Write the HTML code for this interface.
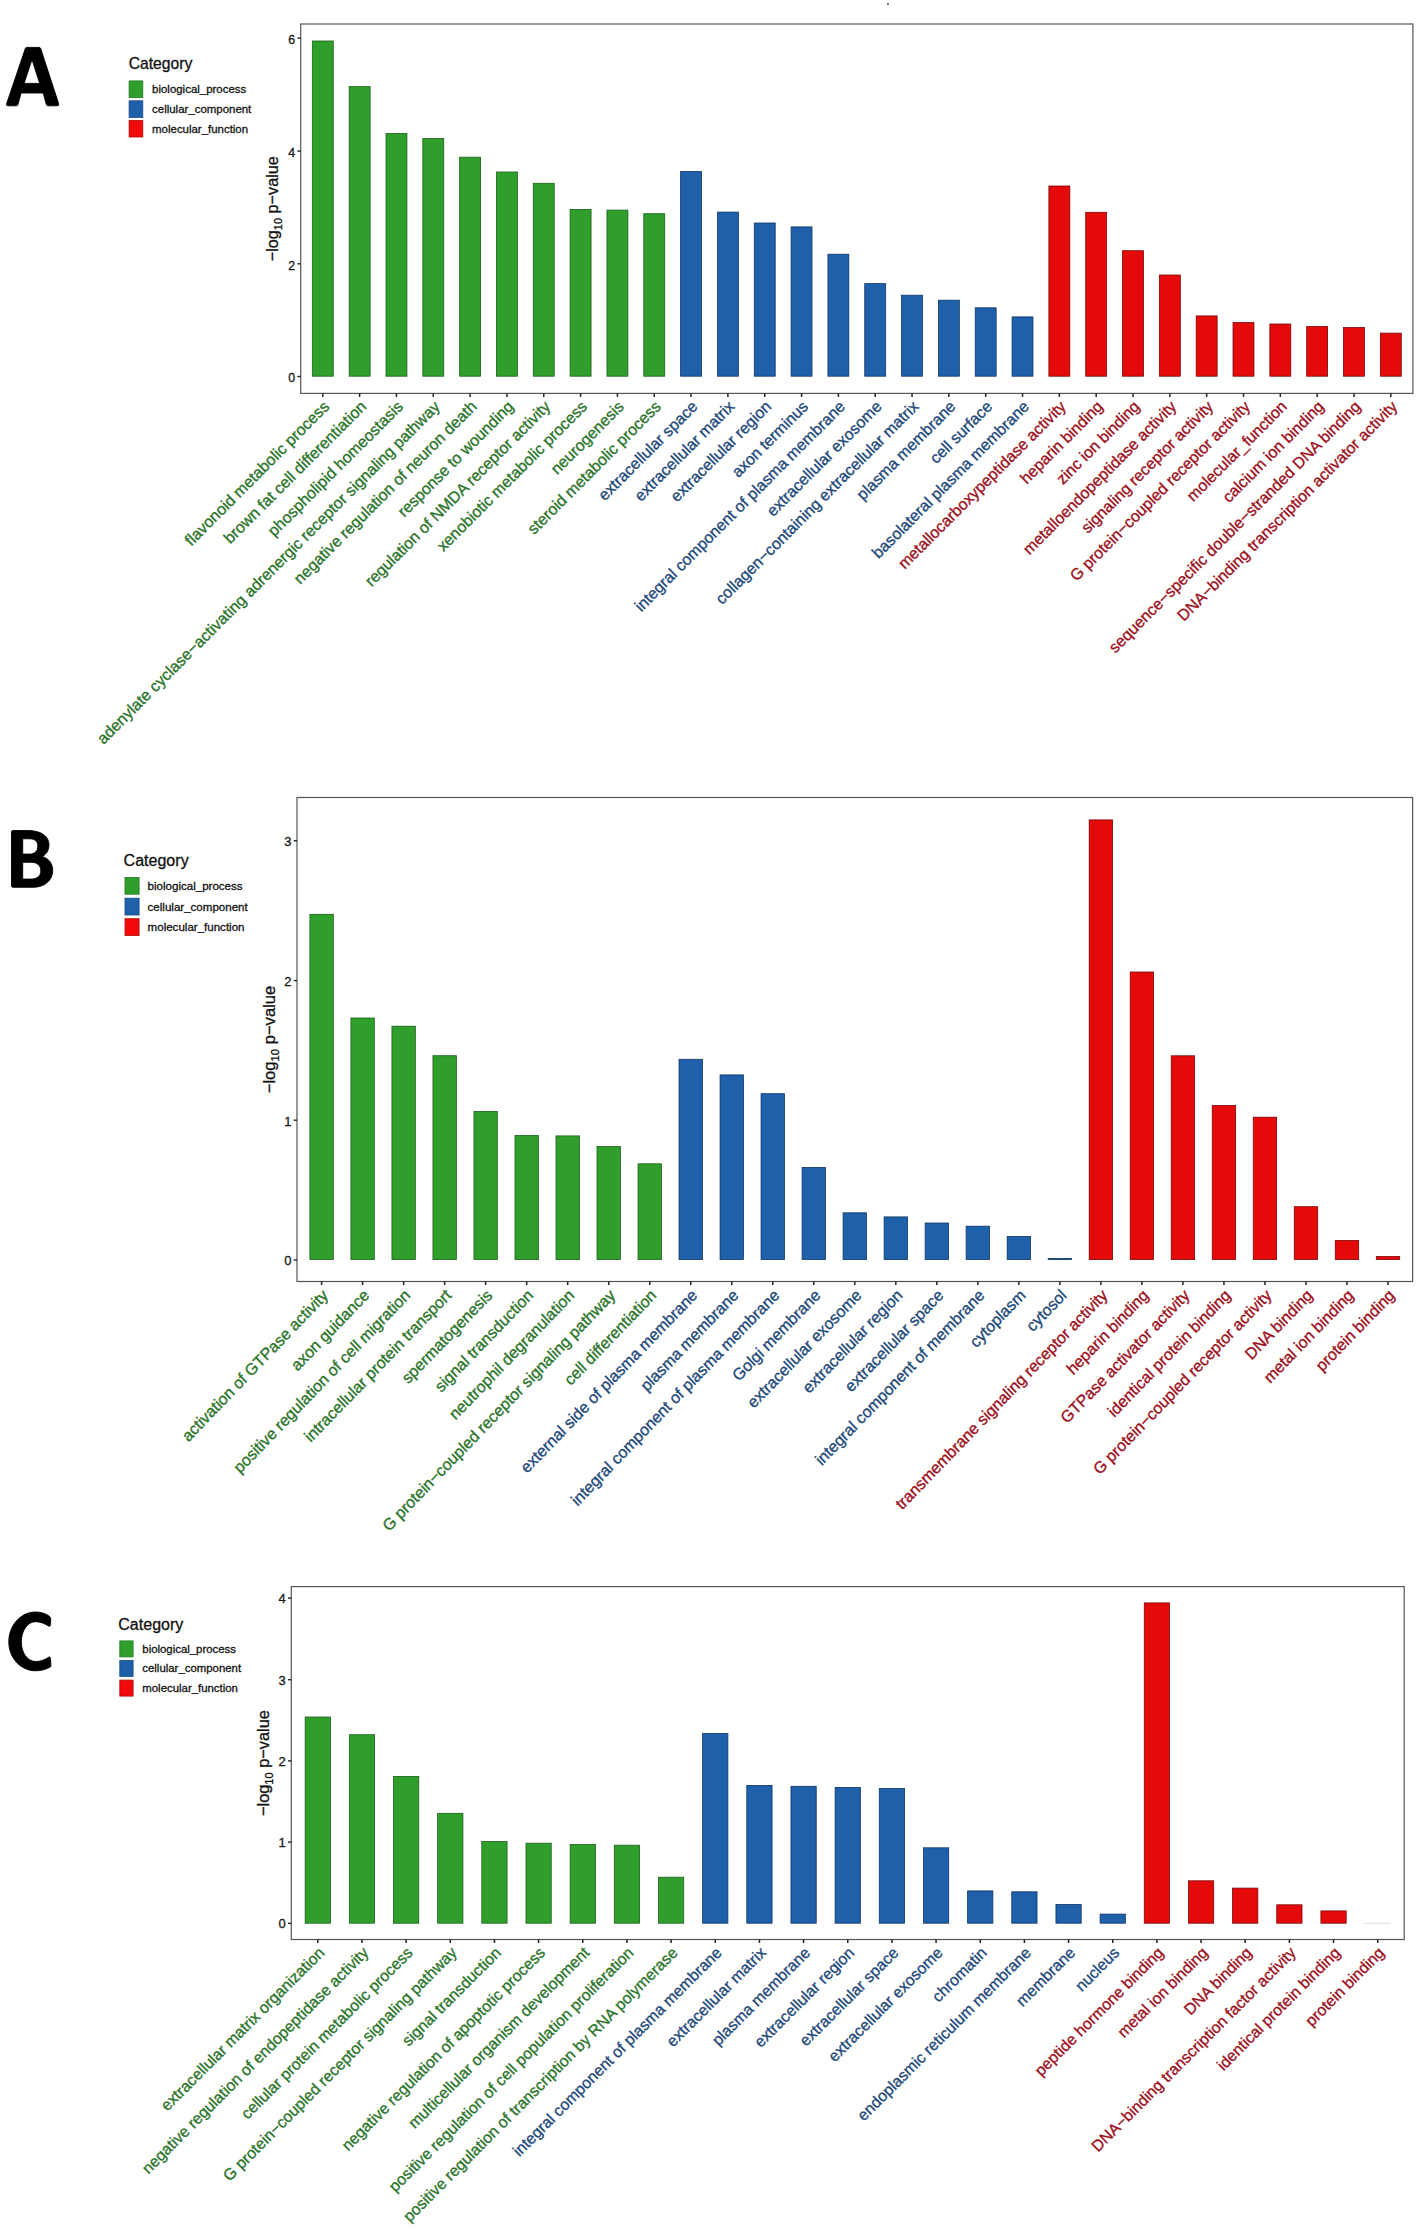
<!DOCTYPE html>
<html><head><meta charset="utf-8"><style>
html,body{margin:0;padding:0;background:#fff;}
svg{display:block;}
text{font-family:"Liberation Sans",sans-serif;}
.lt{fill:#111;}
.lg{fill:#111;}
.yt{fill:#222;text-anchor:end;}
.ytl{font-size:17px;fill:#111;text-anchor:middle;}
.xl{text-anchor:end;stroke-width:0.35px;}
.lt,.lg,.yt,.ytl{stroke:#111;stroke-width:0.3px;}
</style></head><body>
<svg width="1416" height="2232" viewBox="0 0 1416 2232">
<rect x="0" y="0" width="1416" height="2232" fill="#fff"/>
<circle cx="888" cy="4" r="0.9" fill="#333"/>
<path fill="#000" stroke="#000" stroke-width="0.9" stroke-linejoin="round" fill-rule="evenodd" d="M25.4 48.2 Q25.8 47.4 26.8 47.4 L39.2 47.4 Q40.2 47.4 40.6 48.3 L58.6 103.6 Q59.3 105.8 57.2 105.8 L48 105.8 Q46.8 105.8 46.4 104.6 L43.2 93 L21.1 93 L17.9 104.6 Q17.5 105.8 16.3 105.8 L7.9 105.8 Q5.9 105.8 6.6 103.8 Z M32 59.6 L39.7 83.4 L24.1 83.4 Z"/>
<text x="128.7" y="69.3" font-size="15.7" class="lt">Category</text>
<rect x="129.1" y="80.9" width="13.7" height="16.6" fill="#2f9e2b" stroke="#237a20" stroke-width="0.8"/>
<text x="152.1" y="93.2" font-size="11.45" class="lg">biological_process</text>
<rect x="129.1" y="100.8" width="13.7" height="16.6" fill="#1e60aa" stroke="#174c88" stroke-width="0.8"/>
<text x="152.1" y="113.1" font-size="11.45" class="lg">cellular_component</text>
<rect x="129.1" y="120.4" width="13.7" height="16.6" fill="#f20a0a" stroke="#b00808" stroke-width="0.8"/>
<text x="152.1" y="132.7" font-size="11.45" class="lg">molecular_function</text>
<rect x="312.33" y="41" width="20.93" height="335.2" fill="#2f9e2b" stroke="#1a601a" stroke-width="0.8"/>
<rect x="349.16" y="86.6" width="20.93" height="289.6" fill="#2f9e2b" stroke="#1a601a" stroke-width="0.8"/>
<rect x="385.99" y="133.5" width="20.93" height="242.7" fill="#2f9e2b" stroke="#1a601a" stroke-width="0.8"/>
<rect x="422.82" y="138.5" width="20.93" height="237.7" fill="#2f9e2b" stroke="#1a601a" stroke-width="0.8"/>
<rect x="459.64" y="157.2" width="20.93" height="219" fill="#2f9e2b" stroke="#1a601a" stroke-width="0.8"/>
<rect x="496.47" y="172" width="20.93" height="204.2" fill="#2f9e2b" stroke="#1a601a" stroke-width="0.8"/>
<rect x="533.3" y="183.3" width="20.93" height="192.9" fill="#2f9e2b" stroke="#1a601a" stroke-width="0.8"/>
<rect x="570.13" y="209.4" width="20.93" height="166.8" fill="#2f9e2b" stroke="#1a601a" stroke-width="0.8"/>
<rect x="606.96" y="210.1" width="20.93" height="166.1" fill="#2f9e2b" stroke="#1a601a" stroke-width="0.8"/>
<rect x="643.78" y="213.7" width="20.93" height="162.5" fill="#2f9e2b" stroke="#1a601a" stroke-width="0.8"/>
<rect x="680.61" y="171.5" width="20.93" height="204.7" fill="#1e60aa" stroke="#0f3566" stroke-width="0.8"/>
<rect x="717.44" y="212.1" width="20.93" height="164.1" fill="#1e60aa" stroke="#0f3566" stroke-width="0.8"/>
<rect x="754.27" y="223" width="20.93" height="153.2" fill="#1e60aa" stroke="#0f3566" stroke-width="0.8"/>
<rect x="791.09" y="226.9" width="20.93" height="149.3" fill="#1e60aa" stroke="#0f3566" stroke-width="0.8"/>
<rect x="827.92" y="254.2" width="20.93" height="122" fill="#1e60aa" stroke="#0f3566" stroke-width="0.8"/>
<rect x="864.75" y="283.6" width="20.93" height="92.6" fill="#1e60aa" stroke="#0f3566" stroke-width="0.8"/>
<rect x="901.58" y="295.2" width="20.93" height="81" fill="#1e60aa" stroke="#0f3566" stroke-width="0.8"/>
<rect x="938.41" y="300.2" width="20.93" height="76" fill="#1e60aa" stroke="#0f3566" stroke-width="0.8"/>
<rect x="975.23" y="307.8" width="20.93" height="68.4" fill="#1e60aa" stroke="#0f3566" stroke-width="0.8"/>
<rect x="1012.06" y="316.9" width="20.93" height="59.3" fill="#1e60aa" stroke="#0f3566" stroke-width="0.8"/>
<rect x="1048.89" y="186" width="20.93" height="190.2" fill="#e50a0a" stroke="#7a0606" stroke-width="0.8"/>
<rect x="1085.72" y="212.3" width="20.93" height="163.9" fill="#e50a0a" stroke="#7a0606" stroke-width="0.8"/>
<rect x="1122.54" y="250.7" width="20.93" height="125.5" fill="#e50a0a" stroke="#7a0606" stroke-width="0.8"/>
<rect x="1159.37" y="275" width="20.93" height="101.2" fill="#e50a0a" stroke="#7a0606" stroke-width="0.8"/>
<rect x="1196.2" y="315.9" width="20.93" height="60.3" fill="#e50a0a" stroke="#7a0606" stroke-width="0.8"/>
<rect x="1233.03" y="322.5" width="20.93" height="53.7" fill="#e50a0a" stroke="#7a0606" stroke-width="0.8"/>
<rect x="1269.86" y="324" width="20.93" height="52.2" fill="#e50a0a" stroke="#7a0606" stroke-width="0.8"/>
<rect x="1306.68" y="326.5" width="20.93" height="49.7" fill="#e50a0a" stroke="#7a0606" stroke-width="0.8"/>
<rect x="1343.51" y="327.5" width="20.93" height="48.7" fill="#e50a0a" stroke="#7a0606" stroke-width="0.8"/>
<rect x="1380.34" y="333.1" width="20.93" height="43.1" fill="#e50a0a" stroke="#7a0606" stroke-width="0.8"/>
<rect x="300.7" y="24" width="1112.2" height="369.4" fill="none" stroke="#555" stroke-width="1.2"/>
<line x1="297.4" y1="376.5" x2="300.7" y2="376.5" stroke="#222" stroke-width="1.4"/>
<text x="295.1" y="382.4" font-size="12.3" class="yt">0</text>
<line x1="297.4" y1="263.8" x2="300.7" y2="263.8" stroke="#222" stroke-width="1.4"/>
<text x="295.1" y="269.7" font-size="12.3" class="yt">2</text>
<line x1="297.4" y1="151.1" x2="300.7" y2="151.1" stroke="#222" stroke-width="1.4"/>
<text x="295.1" y="157" font-size="12.3" class="yt">4</text>
<line x1="297.4" y1="38.1" x2="300.7" y2="38.1" stroke="#222" stroke-width="1.4"/>
<text x="295.1" y="44" font-size="12.3" class="yt">6</text>
<text transform="translate(278.3,208.7) scale(1,0.955) rotate(-90)" class="ytl">−log<tspan font-size="11.5" dy="3.6">10</tspan><tspan dy="-3.6"> p−value</tspan></text>
<line x1="322.8" y1="393.4" x2="322.8" y2="396.9" stroke="#222" stroke-width="1.5"/>
<text transform="translate(322.6,399.8) rotate(-45)" y="11.0" font-size="15.95" class="xl" fill="#2b742b" stroke="#2b742b">flavonoid metabolic process</text>
<line x1="359.62" y1="393.4" x2="359.62" y2="396.9" stroke="#222" stroke-width="1.5"/>
<text transform="translate(359.42,399.8) rotate(-45)" y="11.0" font-size="15.95" class="xl" fill="#2b742b" stroke="#2b742b">brown fat cell differentiation</text>
<line x1="396.45" y1="393.4" x2="396.45" y2="396.9" stroke="#222" stroke-width="1.5"/>
<text transform="translate(396.25,399.8) rotate(-45)" y="11.0" font-size="15.95" class="xl" fill="#2b742b" stroke="#2b742b">phospholipid homeostasis</text>
<line x1="433.28" y1="393.4" x2="433.28" y2="396.9" stroke="#222" stroke-width="1.5"/>
<text transform="translate(433.08,399.8) rotate(-45)" y="11.0" font-size="15.95" class="xl" fill="#2b742b" stroke="#2b742b">adenylate cyclase−activating adrenergic receptor signaling pathway</text>
<line x1="470.11" y1="393.4" x2="470.11" y2="396.9" stroke="#222" stroke-width="1.5"/>
<text transform="translate(469.91,399.8) rotate(-45)" y="11.0" font-size="15.95" class="xl" fill="#2b742b" stroke="#2b742b">negative regulation of neuron death</text>
<line x1="506.94" y1="393.4" x2="506.94" y2="396.9" stroke="#222" stroke-width="1.5"/>
<text transform="translate(506.74,399.8) rotate(-45)" y="11.0" font-size="15.95" class="xl" fill="#2b742b" stroke="#2b742b">response to wounding</text>
<line x1="543.76" y1="393.4" x2="543.76" y2="396.9" stroke="#222" stroke-width="1.5"/>
<text transform="translate(543.56,399.8) rotate(-45)" y="11.0" font-size="15.95" class="xl" fill="#2b742b" stroke="#2b742b">regulation of NMDA receptor activity</text>
<line x1="580.59" y1="393.4" x2="580.59" y2="396.9" stroke="#222" stroke-width="1.5"/>
<text transform="translate(580.39,399.8) rotate(-45)" y="11.0" font-size="15.95" class="xl" fill="#2b742b" stroke="#2b742b">xenobiotic metabolic process</text>
<line x1="617.42" y1="393.4" x2="617.42" y2="396.9" stroke="#222" stroke-width="1.5"/>
<text transform="translate(617.22,399.8) rotate(-45)" y="11.0" font-size="15.95" class="xl" fill="#2b742b" stroke="#2b742b">neurogenesis</text>
<line x1="654.25" y1="393.4" x2="654.25" y2="396.9" stroke="#222" stroke-width="1.5"/>
<text transform="translate(654.05,399.8) rotate(-45)" y="11.0" font-size="15.95" class="xl" fill="#2b742b" stroke="#2b742b">steroid metabolic process</text>
<line x1="691.07" y1="393.4" x2="691.07" y2="396.9" stroke="#222" stroke-width="1.5"/>
<text transform="translate(690.87,399.8) rotate(-45)" y="11.0" font-size="15.95" class="xl" fill="#22497a" stroke="#22497a">extracellular space</text>
<line x1="727.9" y1="393.4" x2="727.9" y2="396.9" stroke="#222" stroke-width="1.5"/>
<text transform="translate(727.7,399.8) rotate(-45)" y="11.0" font-size="15.95" class="xl" fill="#22497a" stroke="#22497a">extracellular matrix</text>
<line x1="764.73" y1="393.4" x2="764.73" y2="396.9" stroke="#222" stroke-width="1.5"/>
<text transform="translate(764.53,399.8) rotate(-45)" y="11.0" font-size="15.95" class="xl" fill="#22497a" stroke="#22497a">extracellular region</text>
<line x1="801.56" y1="393.4" x2="801.56" y2="396.9" stroke="#222" stroke-width="1.5"/>
<text transform="translate(801.36,399.8) rotate(-45)" y="11.0" font-size="15.95" class="xl" fill="#22497a" stroke="#22497a">axon terminus</text>
<line x1="838.39" y1="393.4" x2="838.39" y2="396.9" stroke="#222" stroke-width="1.5"/>
<text transform="translate(838.19,399.8) rotate(-45)" y="11.0" font-size="15.95" class="xl" fill="#22497a" stroke="#22497a">integral component of plasma membrane</text>
<line x1="875.21" y1="393.4" x2="875.21" y2="396.9" stroke="#222" stroke-width="1.5"/>
<text transform="translate(875.01,399.8) rotate(-45)" y="11.0" font-size="15.95" class="xl" fill="#22497a" stroke="#22497a">extracellular exosome</text>
<line x1="912.04" y1="393.4" x2="912.04" y2="396.9" stroke="#222" stroke-width="1.5"/>
<text transform="translate(911.84,399.8) rotate(-45)" y="11.0" font-size="15.95" class="xl" fill="#22497a" stroke="#22497a">collagen−containing extracellular matrix</text>
<line x1="948.87" y1="393.4" x2="948.87" y2="396.9" stroke="#222" stroke-width="1.5"/>
<text transform="translate(948.67,399.8) rotate(-45)" y="11.0" font-size="15.95" class="xl" fill="#22497a" stroke="#22497a">plasma membrane</text>
<line x1="985.7" y1="393.4" x2="985.7" y2="396.9" stroke="#222" stroke-width="1.5"/>
<text transform="translate(985.5,399.8) rotate(-45)" y="11.0" font-size="15.95" class="xl" fill="#22497a" stroke="#22497a">cell surface</text>
<line x1="1022.53" y1="393.4" x2="1022.53" y2="396.9" stroke="#222" stroke-width="1.5"/>
<text transform="translate(1022.33,399.8) rotate(-45)" y="11.0" font-size="15.95" class="xl" fill="#22497a" stroke="#22497a">basolateral plasma membrane</text>
<line x1="1059.35" y1="393.4" x2="1059.35" y2="396.9" stroke="#222" stroke-width="1.5"/>
<text transform="translate(1059.15,399.8) rotate(-45)" y="11.0" font-size="15.95" class="xl" fill="#9c0f1c" stroke="#9c0f1c">metallocarboxypeptidase activity</text>
<line x1="1096.18" y1="393.4" x2="1096.18" y2="396.9" stroke="#222" stroke-width="1.5"/>
<text transform="translate(1095.98,399.8) rotate(-45)" y="11.0" font-size="15.95" class="xl" fill="#9c0f1c" stroke="#9c0f1c">heparin binding</text>
<line x1="1133.01" y1="393.4" x2="1133.01" y2="396.9" stroke="#222" stroke-width="1.5"/>
<text transform="translate(1132.81,399.8) rotate(-45)" y="11.0" font-size="15.95" class="xl" fill="#9c0f1c" stroke="#9c0f1c">zinc ion binding</text>
<line x1="1169.84" y1="393.4" x2="1169.84" y2="396.9" stroke="#222" stroke-width="1.5"/>
<text transform="translate(1169.64,399.8) rotate(-45)" y="11.0" font-size="15.95" class="xl" fill="#9c0f1c" stroke="#9c0f1c">metalloendopeptidase activity</text>
<line x1="1206.66" y1="393.4" x2="1206.66" y2="396.9" stroke="#222" stroke-width="1.5"/>
<text transform="translate(1206.46,399.8) rotate(-45)" y="11.0" font-size="15.95" class="xl" fill="#9c0f1c" stroke="#9c0f1c">signaling receptor activity</text>
<line x1="1243.49" y1="393.4" x2="1243.49" y2="396.9" stroke="#222" stroke-width="1.5"/>
<text transform="translate(1243.29,399.8) rotate(-45)" y="11.0" font-size="15.95" class="xl" fill="#9c0f1c" stroke="#9c0f1c">G protein−coupled receptor activity</text>
<line x1="1280.32" y1="393.4" x2="1280.32" y2="396.9" stroke="#222" stroke-width="1.5"/>
<text transform="translate(1280.12,399.8) rotate(-45)" y="11.0" font-size="15.95" class="xl" fill="#9c0f1c" stroke="#9c0f1c">molecular_function</text>
<line x1="1317.15" y1="393.4" x2="1317.15" y2="396.9" stroke="#222" stroke-width="1.5"/>
<text transform="translate(1316.95,399.8) rotate(-45)" y="11.0" font-size="15.95" class="xl" fill="#9c0f1c" stroke="#9c0f1c">calcium ion binding</text>
<line x1="1353.98" y1="393.4" x2="1353.98" y2="396.9" stroke="#222" stroke-width="1.5"/>
<text transform="translate(1353.78,399.8) rotate(-45)" y="11.0" font-size="15.95" class="xl" fill="#9c0f1c" stroke="#9c0f1c">sequence−specific double−stranded DNA binding</text>
<line x1="1390.8" y1="393.4" x2="1390.8" y2="396.9" stroke="#222" stroke-width="1.5"/>
<text transform="translate(1390.6,399.8) rotate(-45)" y="11.0" font-size="15.95" class="xl" fill="#9c0f1c" stroke="#9c0f1c">DNA−binding transcription activator activity</text>
<path fill="#000" stroke="#000" stroke-width="0.9" stroke-linejoin="round" fill-rule="evenodd" d="M13 830.5 L27.7 830.5 C40 830.5 49 835.5 49 844.7 C49 850.3 46.3 854.3 42.3 856.6 C48.5 858.3 52.7 863.5 52.7 870.4 C52.7 880.8 44 887.3 33 887.3 L13 887.3 Q11.5 887.3 11.5 885.8 L11.5 832 Q11.5 830.5 13 830.5 Z M22.7 838.8 L29.8 838.8 C35 838.8 37.8 841.5 37.8 846.3 C37.8 851.3 34.6 854.1 29.6 854.1 L22.7 854.1 Z M22.7 862.3 L30.8 862.3 C37.4 862.3 40.8 865.5 40.8 870.7 C40.8 876 37.2 879.1 30.6 879.1 L22.7 879.1 Z"/>
<text x="123.6" y="866" font-size="16.05" class="lt">Category</text>
<rect x="125" y="877.4" width="14.1" height="16.8" fill="#2f9e2b" stroke="#237a20" stroke-width="0.8"/>
<text x="147.6" y="889.8" font-size="11.55" class="lg">biological_process</text>
<rect x="125" y="898.2" width="14.1" height="16.8" fill="#1e60aa" stroke="#174c88" stroke-width="0.8"/>
<text x="147.6" y="910.6" font-size="11.55" class="lg">cellular_component</text>
<rect x="125" y="918.7" width="14.1" height="16.8" fill="#f20a0a" stroke="#b00808" stroke-width="0.8"/>
<text x="147.6" y="931.1" font-size="11.55" class="lg">molecular_function</text>
<rect x="309.91" y="914.3" width="23.4" height="345.3" fill="#2f9e2b" stroke="#1a601a" stroke-width="0.8"/>
<rect x="350.92" y="1018" width="23.4" height="241.6" fill="#2f9e2b" stroke="#1a601a" stroke-width="0.8"/>
<rect x="391.94" y="1026.2" width="23.4" height="233.4" fill="#2f9e2b" stroke="#1a601a" stroke-width="0.8"/>
<rect x="432.95" y="1055.7" width="23.4" height="203.9" fill="#2f9e2b" stroke="#1a601a" stroke-width="0.8"/>
<rect x="473.97" y="1111.4" width="23.4" height="148.2" fill="#2f9e2b" stroke="#1a601a" stroke-width="0.8"/>
<rect x="514.98" y="1135.5" width="23.4" height="124.1" fill="#2f9e2b" stroke="#1a601a" stroke-width="0.8"/>
<rect x="556" y="1135.9" width="23.4" height="123.7" fill="#2f9e2b" stroke="#1a601a" stroke-width="0.8"/>
<rect x="597.01" y="1146.6" width="23.4" height="113" fill="#2f9e2b" stroke="#1a601a" stroke-width="0.8"/>
<rect x="638.03" y="1163.8" width="23.4" height="95.8" fill="#2f9e2b" stroke="#1a601a" stroke-width="0.8"/>
<rect x="679.04" y="1059.3" width="23.4" height="200.3" fill="#1e60aa" stroke="#0f3566" stroke-width="0.8"/>
<rect x="720.06" y="1074.9" width="23.4" height="184.7" fill="#1e60aa" stroke="#0f3566" stroke-width="0.8"/>
<rect x="761.07" y="1093.7" width="23.4" height="165.9" fill="#1e60aa" stroke="#0f3566" stroke-width="0.8"/>
<rect x="802.09" y="1167.4" width="23.4" height="92.2" fill="#1e60aa" stroke="#0f3566" stroke-width="0.8"/>
<rect x="843.1" y="1212.8" width="23.4" height="46.8" fill="#1e60aa" stroke="#0f3566" stroke-width="0.8"/>
<rect x="884.12" y="1216.9" width="23.4" height="42.7" fill="#1e60aa" stroke="#0f3566" stroke-width="0.8"/>
<rect x="925.13" y="1223" width="23.4" height="36.6" fill="#1e60aa" stroke="#0f3566" stroke-width="0.8"/>
<rect x="966.14" y="1226.2" width="23.4" height="33.4" fill="#1e60aa" stroke="#0f3566" stroke-width="0.8"/>
<rect x="1007.16" y="1236.4" width="23.4" height="23.2" fill="#1e60aa" stroke="#0f3566" stroke-width="0.8"/>
<rect x="1048.17" y="1258.4" width="23.4" height="1.2" fill="#1e60aa" stroke="#0f3566" stroke-width="0.8"/>
<rect x="1089.19" y="819.9" width="23.4" height="439.7" fill="#e50a0a" stroke="#7a0606" stroke-width="0.8"/>
<rect x="1130.2" y="972" width="23.4" height="287.6" fill="#e50a0a" stroke="#7a0606" stroke-width="0.8"/>
<rect x="1171.22" y="1055.8" width="23.4" height="203.8" fill="#e50a0a" stroke="#7a0606" stroke-width="0.8"/>
<rect x="1212.23" y="1105.4" width="23.4" height="154.2" fill="#e50a0a" stroke="#7a0606" stroke-width="0.8"/>
<rect x="1253.25" y="1117.2" width="23.4" height="142.4" fill="#e50a0a" stroke="#7a0606" stroke-width="0.8"/>
<rect x="1294.26" y="1206.7" width="23.4" height="52.9" fill="#e50a0a" stroke="#7a0606" stroke-width="0.8"/>
<rect x="1335.28" y="1240.4" width="23.4" height="19.2" fill="#e50a0a" stroke="#7a0606" stroke-width="0.8"/>
<rect x="1376.29" y="1256.6" width="23.4" height="3" fill="#e50a0a" stroke="#7a0606" stroke-width="0.8"/>
<rect x="297" y="797.5" width="1115.6" height="484" fill="none" stroke="#555" stroke-width="1.2"/>
<line x1="293.7" y1="1260" x2="297" y2="1260" stroke="#222" stroke-width="1.4"/>
<text x="291.4" y="1265.4" font-size="13" class="yt">0</text>
<line x1="293.7" y1="1120.2" x2="297" y2="1120.2" stroke="#222" stroke-width="1.4"/>
<text x="291.4" y="1125.6" font-size="13" class="yt">1</text>
<line x1="293.7" y1="980.6" x2="297" y2="980.6" stroke="#222" stroke-width="1.4"/>
<text x="291.4" y="986" font-size="13" class="yt">2</text>
<line x1="293.7" y1="840.8" x2="297" y2="840.8" stroke="#222" stroke-width="1.4"/>
<text x="291.4" y="846.2" font-size="13" class="yt">3</text>
<text transform="translate(275.0,1039.5) scale(1,0.978) rotate(-90)" class="ytl">−log<tspan font-size="11.5" dy="3.6">10</tspan><tspan dy="-3.6"> p−value</tspan></text>
<line x1="321.61" y1="1281.5" x2="321.61" y2="1285" stroke="#222" stroke-width="1.5"/>
<text transform="translate(321.41,1288.3) scale(1.0,1.037) rotate(-45)" y="11.0" font-size="15.8" class="xl" fill="#2b742b" stroke="#2b742b">activation of GTPase activity</text>
<line x1="362.62" y1="1281.5" x2="362.62" y2="1285" stroke="#222" stroke-width="1.5"/>
<text transform="translate(362.42,1288.3) scale(1.0,1.037) rotate(-45)" y="11.0" font-size="15.8" class="xl" fill="#2b742b" stroke="#2b742b">axon guidance</text>
<line x1="403.64" y1="1281.5" x2="403.64" y2="1285" stroke="#222" stroke-width="1.5"/>
<text transform="translate(403.44,1288.3) scale(1.0,1.037) rotate(-45)" y="11.0" font-size="15.8" class="xl" fill="#2b742b" stroke="#2b742b">positive regulation of cell migration</text>
<line x1="444.65" y1="1281.5" x2="444.65" y2="1285" stroke="#222" stroke-width="1.5"/>
<text transform="translate(444.45,1288.3) scale(1.0,1.037) rotate(-45)" y="11.0" font-size="15.8" class="xl" fill="#2b742b" stroke="#2b742b">intracellular protein transport</text>
<line x1="485.67" y1="1281.5" x2="485.67" y2="1285" stroke="#222" stroke-width="1.5"/>
<text transform="translate(485.47,1288.3) scale(1.0,1.037) rotate(-45)" y="11.0" font-size="15.8" class="xl" fill="#2b742b" stroke="#2b742b">spermatogenesis</text>
<line x1="526.68" y1="1281.5" x2="526.68" y2="1285" stroke="#222" stroke-width="1.5"/>
<text transform="translate(526.48,1288.3) scale(1.0,1.037) rotate(-45)" y="11.0" font-size="15.8" class="xl" fill="#2b742b" stroke="#2b742b">signal transduction</text>
<line x1="567.7" y1="1281.5" x2="567.7" y2="1285" stroke="#222" stroke-width="1.5"/>
<text transform="translate(567.5,1288.3) scale(1.0,1.037) rotate(-45)" y="11.0" font-size="15.8" class="xl" fill="#2b742b" stroke="#2b742b">neutrophil degranulation</text>
<line x1="608.71" y1="1281.5" x2="608.71" y2="1285" stroke="#222" stroke-width="1.5"/>
<text transform="translate(608.51,1288.3) scale(1.0,1.037) rotate(-45)" y="11.0" font-size="15.8" class="xl" fill="#2b742b" stroke="#2b742b">G protein−coupled receptor signaling pathway</text>
<line x1="649.73" y1="1281.5" x2="649.73" y2="1285" stroke="#222" stroke-width="1.5"/>
<text transform="translate(649.53,1288.3) scale(1.0,1.037) rotate(-45)" y="11.0" font-size="15.8" class="xl" fill="#2b742b" stroke="#2b742b">cell differentiation</text>
<line x1="690.74" y1="1281.5" x2="690.74" y2="1285" stroke="#222" stroke-width="1.5"/>
<text transform="translate(690.54,1288.3) scale(1.0,1.037) rotate(-45)" y="11.0" font-size="15.8" class="xl" fill="#22497a" stroke="#22497a">external side of plasma membrane</text>
<line x1="731.76" y1="1281.5" x2="731.76" y2="1285" stroke="#222" stroke-width="1.5"/>
<text transform="translate(731.56,1288.3) scale(1.0,1.037) rotate(-45)" y="11.0" font-size="15.8" class="xl" fill="#22497a" stroke="#22497a">plasma membrane</text>
<line x1="772.77" y1="1281.5" x2="772.77" y2="1285" stroke="#222" stroke-width="1.5"/>
<text transform="translate(772.57,1288.3) scale(1.0,1.037) rotate(-45)" y="11.0" font-size="15.8" class="xl" fill="#22497a" stroke="#22497a">integral component of plasma membrane</text>
<line x1="813.79" y1="1281.5" x2="813.79" y2="1285" stroke="#222" stroke-width="1.5"/>
<text transform="translate(813.59,1288.3) scale(1.0,1.037) rotate(-45)" y="11.0" font-size="15.8" class="xl" fill="#22497a" stroke="#22497a">Golgi membrane</text>
<line x1="854.8" y1="1281.5" x2="854.8" y2="1285" stroke="#222" stroke-width="1.5"/>
<text transform="translate(854.6,1288.3) scale(1.0,1.037) rotate(-45)" y="11.0" font-size="15.8" class="xl" fill="#22497a" stroke="#22497a">extracellular exosome</text>
<line x1="895.81" y1="1281.5" x2="895.81" y2="1285" stroke="#222" stroke-width="1.5"/>
<text transform="translate(895.61,1288.3) scale(1.0,1.037) rotate(-45)" y="11.0" font-size="15.8" class="xl" fill="#22497a" stroke="#22497a">extracellular region</text>
<line x1="936.83" y1="1281.5" x2="936.83" y2="1285" stroke="#222" stroke-width="1.5"/>
<text transform="translate(936.63,1288.3) scale(1.0,1.037) rotate(-45)" y="11.0" font-size="15.8" class="xl" fill="#22497a" stroke="#22497a">extracellular space</text>
<line x1="977.84" y1="1281.5" x2="977.84" y2="1285" stroke="#222" stroke-width="1.5"/>
<text transform="translate(977.64,1288.3) scale(1.0,1.037) rotate(-45)" y="11.0" font-size="15.8" class="xl" fill="#22497a" stroke="#22497a">integral component of membrane</text>
<line x1="1018.86" y1="1281.5" x2="1018.86" y2="1285" stroke="#222" stroke-width="1.5"/>
<text transform="translate(1018.66,1288.3) scale(1.0,1.037) rotate(-45)" y="11.0" font-size="15.8" class="xl" fill="#22497a" stroke="#22497a">cytoplasm</text>
<line x1="1059.87" y1="1281.5" x2="1059.87" y2="1285" stroke="#222" stroke-width="1.5"/>
<text transform="translate(1059.67,1288.3) scale(1.0,1.037) rotate(-45)" y="11.0" font-size="15.8" class="xl" fill="#22497a" stroke="#22497a">cytosol</text>
<line x1="1100.89" y1="1281.5" x2="1100.89" y2="1285" stroke="#222" stroke-width="1.5"/>
<text transform="translate(1100.69,1288.3) scale(1.0,1.037) rotate(-45)" y="11.0" font-size="15.8" class="xl" fill="#9c0f1c" stroke="#9c0f1c">transmembrane signaling receptor activity</text>
<line x1="1141.9" y1="1281.5" x2="1141.9" y2="1285" stroke="#222" stroke-width="1.5"/>
<text transform="translate(1141.7,1288.3) scale(1.0,1.037) rotate(-45)" y="11.0" font-size="15.8" class="xl" fill="#9c0f1c" stroke="#9c0f1c">heparin binding</text>
<line x1="1182.92" y1="1281.5" x2="1182.92" y2="1285" stroke="#222" stroke-width="1.5"/>
<text transform="translate(1182.72,1288.3) scale(1.0,1.037) rotate(-45)" y="11.0" font-size="15.8" class="xl" fill="#9c0f1c" stroke="#9c0f1c">GTPase activator activity</text>
<line x1="1223.93" y1="1281.5" x2="1223.93" y2="1285" stroke="#222" stroke-width="1.5"/>
<text transform="translate(1223.73,1288.3) scale(1.0,1.037) rotate(-45)" y="11.0" font-size="15.8" class="xl" fill="#9c0f1c" stroke="#9c0f1c">identical protein binding</text>
<line x1="1264.95" y1="1281.5" x2="1264.95" y2="1285" stroke="#222" stroke-width="1.5"/>
<text transform="translate(1264.75,1288.3) scale(1.0,1.037) rotate(-45)" y="11.0" font-size="15.8" class="xl" fill="#9c0f1c" stroke="#9c0f1c">G protein−coupled receptor activity</text>
<line x1="1305.96" y1="1281.5" x2="1305.96" y2="1285" stroke="#222" stroke-width="1.5"/>
<text transform="translate(1305.76,1288.3) scale(1.0,1.037) rotate(-45)" y="11.0" font-size="15.8" class="xl" fill="#9c0f1c" stroke="#9c0f1c">DNA binding</text>
<line x1="1346.98" y1="1281.5" x2="1346.98" y2="1285" stroke="#222" stroke-width="1.5"/>
<text transform="translate(1346.78,1288.3) scale(1.0,1.037) rotate(-45)" y="11.0" font-size="15.8" class="xl" fill="#9c0f1c" stroke="#9c0f1c">metal ion binding</text>
<line x1="1387.99" y1="1281.5" x2="1387.99" y2="1285" stroke="#222" stroke-width="1.5"/>
<text transform="translate(1387.79,1288.3) scale(1.0,1.037) rotate(-45)" y="11.0" font-size="15.8" class="xl" fill="#9c0f1c" stroke="#9c0f1c">protein binding</text>
<path fill="#000" stroke="#000" stroke-width="0.9" stroke-linejoin="round" d="M49.4 1616.3 C45.5 1613.3 40.5 1612 35.6 1612 C20.8 1612 8.8 1625.2 8.8 1642 C8.8 1658 20.8 1670.8 35.6 1670.8 C41.5 1670.8 46.8 1669.2 50.9 1666.6 L50.6 1659.5 Q50.3 1656.3 49.2 1656.9 C45.5 1659.6 40.8 1661.5 35.5 1661.5 C27.7 1661.5 21.3 1652.8 21.3 1642 C21.3 1630.8 27.7 1621.7 35.3 1621.7 C40.3 1621.7 45 1623.7 49 1626.2 Q50.4 1626.6 50.6 1624.5 L50.7 1619 Q50.8 1617.2 49.4 1616.3 Z"/>
<text x="118.3" y="1630" font-size="16.05" class="lt">Category</text>
<rect x="119.8" y="1640.9" width="13.3" height="16" fill="#2f9e2b" stroke="#237a20" stroke-width="0.8"/>
<text x="142.3" y="1652.9" font-size="11.4" class="lg">biological_process</text>
<rect x="119.8" y="1660.4" width="13.3" height="16" fill="#1e60aa" stroke="#174c88" stroke-width="0.8"/>
<text x="142.3" y="1672.4" font-size="11.4" class="lg">cellular_component</text>
<rect x="119.8" y="1680.1" width="13.3" height="16" fill="#f20a0a" stroke="#b00808" stroke-width="0.8"/>
<text x="142.3" y="1692.1" font-size="11.4" class="lg">molecular_function</text>
<rect x="305.17" y="1717" width="25.26" height="206.2" fill="#2f9e2b" stroke="#1a601a" stroke-width="0.8"/>
<rect x="349.33" y="1734.7" width="25.26" height="188.5" fill="#2f9e2b" stroke="#1a601a" stroke-width="0.8"/>
<rect x="393.5" y="1776.4" width="25.26" height="146.8" fill="#2f9e2b" stroke="#1a601a" stroke-width="0.8"/>
<rect x="437.66" y="1813.3" width="25.26" height="109.9" fill="#2f9e2b" stroke="#1a601a" stroke-width="0.8"/>
<rect x="481.82" y="1841.6" width="25.26" height="81.6" fill="#2f9e2b" stroke="#1a601a" stroke-width="0.8"/>
<rect x="525.98" y="1843.2" width="25.26" height="80" fill="#2f9e2b" stroke="#1a601a" stroke-width="0.8"/>
<rect x="570.15" y="1844.4" width="25.26" height="78.8" fill="#2f9e2b" stroke="#1a601a" stroke-width="0.8"/>
<rect x="614.31" y="1845.2" width="25.26" height="78" fill="#2f9e2b" stroke="#1a601a" stroke-width="0.8"/>
<rect x="658.47" y="1877.2" width="25.26" height="46" fill="#2f9e2b" stroke="#1a601a" stroke-width="0.8"/>
<rect x="702.63" y="1733.4" width="25.26" height="189.8" fill="#1e60aa" stroke="#0f3566" stroke-width="0.8"/>
<rect x="746.8" y="1785.4" width="25.26" height="137.8" fill="#1e60aa" stroke="#0f3566" stroke-width="0.8"/>
<rect x="790.96" y="1786.3" width="25.26" height="136.9" fill="#1e60aa" stroke="#0f3566" stroke-width="0.8"/>
<rect x="835.12" y="1787.5" width="25.26" height="135.7" fill="#1e60aa" stroke="#0f3566" stroke-width="0.8"/>
<rect x="879.28" y="1788.4" width="25.26" height="134.8" fill="#1e60aa" stroke="#0f3566" stroke-width="0.8"/>
<rect x="923.45" y="1847.8" width="25.26" height="75.4" fill="#1e60aa" stroke="#0f3566" stroke-width="0.8"/>
<rect x="967.61" y="1890.9" width="25.26" height="32.3" fill="#1e60aa" stroke="#0f3566" stroke-width="0.8"/>
<rect x="1011.77" y="1891.8" width="25.26" height="31.4" fill="#1e60aa" stroke="#0f3566" stroke-width="0.8"/>
<rect x="1055.94" y="1904.4" width="25.26" height="18.8" fill="#1e60aa" stroke="#0f3566" stroke-width="0.8"/>
<rect x="1100.1" y="1914.1" width="25.26" height="9.1" fill="#1e60aa" stroke="#0f3566" stroke-width="0.8"/>
<rect x="1144.26" y="1602.9" width="25.26" height="320.3" fill="#e50a0a" stroke="#7a0606" stroke-width="0.8"/>
<rect x="1188.42" y="1880.8" width="25.26" height="42.4" fill="#e50a0a" stroke="#7a0606" stroke-width="0.8"/>
<rect x="1232.59" y="1888.1" width="25.26" height="35.1" fill="#e50a0a" stroke="#7a0606" stroke-width="0.8"/>
<rect x="1276.75" y="1904.8" width="25.26" height="18.4" fill="#e50a0a" stroke="#7a0606" stroke-width="0.8"/>
<rect x="1320.91" y="1910.9" width="25.26" height="12.3" fill="#e50a0a" stroke="#7a0606" stroke-width="0.8"/>
<line x1="1364.67" y1="1923.3" x2="1390.73" y2="1923.3" stroke="#d6d6d6" stroke-width="0.9"/>
<rect x="291.3" y="1586.6" width="1112.9" height="352.9" fill="none" stroke="#555" stroke-width="1.2"/>
<line x1="288" y1="1923.4" x2="291.3" y2="1923.4" stroke="#222" stroke-width="1.4"/>
<text x="285.7" y="1928.2" font-size="13" class="yt">0</text>
<line x1="288" y1="1842.1" x2="291.3" y2="1842.1" stroke="#222" stroke-width="1.4"/>
<text x="285.7" y="1846.9" font-size="13" class="yt">1</text>
<line x1="288" y1="1760.9" x2="291.3" y2="1760.9" stroke="#222" stroke-width="1.4"/>
<text x="285.7" y="1765.7" font-size="13" class="yt">2</text>
<line x1="288" y1="1679.7" x2="291.3" y2="1679.7" stroke="#222" stroke-width="1.4"/>
<text x="285.7" y="1684.5" font-size="13" class="yt">3</text>
<line x1="288" y1="1598.1" x2="291.3" y2="1598.1" stroke="#222" stroke-width="1.4"/>
<text x="285.7" y="1602.9" font-size="13" class="yt">4</text>
<text transform="translate(268.9,1763.05) scale(1,0.962) rotate(-90)" class="ytl">−log<tspan font-size="11.5" dy="3.6">10</tspan><tspan dy="-3.6"> p−value</tspan></text>
<line x1="317.8" y1="1939.5" x2="317.8" y2="1943" stroke="#222" stroke-width="1.5"/>
<text transform="translate(317.6,1945.9) rotate(-45)" y="11.0" font-size="15.85" class="xl" fill="#2b742b" stroke="#2b742b">extracellular matrix organization</text>
<line x1="361.96" y1="1939.5" x2="361.96" y2="1943" stroke="#222" stroke-width="1.5"/>
<text transform="translate(361.76,1945.9) rotate(-45)" y="11.0" font-size="15.85" class="xl" fill="#2b742b" stroke="#2b742b">negative regulation of endopeptidase activity</text>
<line x1="406.12" y1="1939.5" x2="406.12" y2="1943" stroke="#222" stroke-width="1.5"/>
<text transform="translate(405.92,1945.9) rotate(-45)" y="11.0" font-size="15.85" class="xl" fill="#2b742b" stroke="#2b742b">cellular protein metabolic process</text>
<line x1="450.29" y1="1939.5" x2="450.29" y2="1943" stroke="#222" stroke-width="1.5"/>
<text transform="translate(450.09,1945.9) rotate(-45)" y="11.0" font-size="15.85" class="xl" fill="#2b742b" stroke="#2b742b">G protein−coupled receptor signaling pathway</text>
<line x1="494.45" y1="1939.5" x2="494.45" y2="1943" stroke="#222" stroke-width="1.5"/>
<text transform="translate(494.25,1945.9) rotate(-45)" y="11.0" font-size="15.85" class="xl" fill="#2b742b" stroke="#2b742b">signal transduction</text>
<line x1="538.61" y1="1939.5" x2="538.61" y2="1943" stroke="#222" stroke-width="1.5"/>
<text transform="translate(538.41,1945.9) rotate(-45)" y="11.0" font-size="15.85" class="xl" fill="#2b742b" stroke="#2b742b">negative regulation of apoptotic process</text>
<line x1="582.77" y1="1939.5" x2="582.77" y2="1943" stroke="#222" stroke-width="1.5"/>
<text transform="translate(582.57,1945.9) rotate(-45)" y="11.0" font-size="15.85" class="xl" fill="#2b742b" stroke="#2b742b">multicellular organism development</text>
<line x1="626.94" y1="1939.5" x2="626.94" y2="1943" stroke="#222" stroke-width="1.5"/>
<text transform="translate(626.74,1945.9) rotate(-45)" y="11.0" font-size="15.85" class="xl" fill="#2b742b" stroke="#2b742b">positive regulation of cell population proliferation</text>
<line x1="671.1" y1="1939.5" x2="671.1" y2="1943" stroke="#222" stroke-width="1.5"/>
<text transform="translate(670.9,1945.9) rotate(-45)" y="11.0" font-size="15.85" class="xl" fill="#2b742b" stroke="#2b742b">positive regulation of transcription by RNA polymerase</text>
<line x1="715.26" y1="1939.5" x2="715.26" y2="1943" stroke="#222" stroke-width="1.5"/>
<text transform="translate(715.06,1945.9) rotate(-45)" y="11.0" font-size="15.85" class="xl" fill="#22497a" stroke="#22497a">integral component of plasma membrane</text>
<line x1="759.42" y1="1939.5" x2="759.42" y2="1943" stroke="#222" stroke-width="1.5"/>
<text transform="translate(759.22,1945.9) rotate(-45)" y="11.0" font-size="15.85" class="xl" fill="#22497a" stroke="#22497a">extracellular matrix</text>
<line x1="803.59" y1="1939.5" x2="803.59" y2="1943" stroke="#222" stroke-width="1.5"/>
<text transform="translate(803.39,1945.9) rotate(-45)" y="11.0" font-size="15.85" class="xl" fill="#22497a" stroke="#22497a">plasma membrane</text>
<line x1="847.75" y1="1939.5" x2="847.75" y2="1943" stroke="#222" stroke-width="1.5"/>
<text transform="translate(847.55,1945.9) rotate(-45)" y="11.0" font-size="15.85" class="xl" fill="#22497a" stroke="#22497a">extracellular region</text>
<line x1="891.91" y1="1939.5" x2="891.91" y2="1943" stroke="#222" stroke-width="1.5"/>
<text transform="translate(891.71,1945.9) rotate(-45)" y="11.0" font-size="15.85" class="xl" fill="#22497a" stroke="#22497a">extracellular space</text>
<line x1="936.08" y1="1939.5" x2="936.08" y2="1943" stroke="#222" stroke-width="1.5"/>
<text transform="translate(935.88,1945.9) rotate(-45)" y="11.0" font-size="15.85" class="xl" fill="#22497a" stroke="#22497a">extracellular exosome</text>
<line x1="980.24" y1="1939.5" x2="980.24" y2="1943" stroke="#222" stroke-width="1.5"/>
<text transform="translate(980.04,1945.9) rotate(-45)" y="11.0" font-size="15.85" class="xl" fill="#22497a" stroke="#22497a">chromatin</text>
<line x1="1024.4" y1="1939.5" x2="1024.4" y2="1943" stroke="#222" stroke-width="1.5"/>
<text transform="translate(1024.2,1945.9) rotate(-45)" y="11.0" font-size="15.85" class="xl" fill="#22497a" stroke="#22497a">endoplasmic reticulum membrane</text>
<line x1="1068.56" y1="1939.5" x2="1068.56" y2="1943" stroke="#222" stroke-width="1.5"/>
<text transform="translate(1068.36,1945.9) rotate(-45)" y="11.0" font-size="15.85" class="xl" fill="#22497a" stroke="#22497a">membrane</text>
<line x1="1112.73" y1="1939.5" x2="1112.73" y2="1943" stroke="#222" stroke-width="1.5"/>
<text transform="translate(1112.53,1945.9) rotate(-45)" y="11.0" font-size="15.85" class="xl" fill="#22497a" stroke="#22497a">nucleus</text>
<line x1="1156.89" y1="1939.5" x2="1156.89" y2="1943" stroke="#222" stroke-width="1.5"/>
<text transform="translate(1156.69,1945.9) rotate(-45)" y="11.0" font-size="15.85" class="xl" fill="#9c0f1c" stroke="#9c0f1c">peptide hormone binding</text>
<line x1="1201.05" y1="1939.5" x2="1201.05" y2="1943" stroke="#222" stroke-width="1.5"/>
<text transform="translate(1200.85,1945.9) rotate(-45)" y="11.0" font-size="15.85" class="xl" fill="#9c0f1c" stroke="#9c0f1c">metal ion binding</text>
<line x1="1245.21" y1="1939.5" x2="1245.21" y2="1943" stroke="#222" stroke-width="1.5"/>
<text transform="translate(1245.01,1945.9) rotate(-45)" y="11.0" font-size="15.85" class="xl" fill="#9c0f1c" stroke="#9c0f1c">DNA binding</text>
<line x1="1289.38" y1="1939.5" x2="1289.38" y2="1943" stroke="#222" stroke-width="1.5"/>
<text transform="translate(1289.18,1945.9) rotate(-45)" y="11.0" font-size="15.85" class="xl" fill="#9c0f1c" stroke="#9c0f1c">DNA−binding transcription factor activity</text>
<line x1="1333.54" y1="1939.5" x2="1333.54" y2="1943" stroke="#222" stroke-width="1.5"/>
<text transform="translate(1333.34,1945.9) rotate(-45)" y="11.0" font-size="15.85" class="xl" fill="#9c0f1c" stroke="#9c0f1c">identical protein binding</text>
<line x1="1377.7" y1="1939.5" x2="1377.7" y2="1943" stroke="#222" stroke-width="1.5"/>
<text transform="translate(1377.5,1945.9) rotate(-45)" y="11.0" font-size="15.85" class="xl" fill="#9c0f1c" stroke="#9c0f1c">protein binding</text>
</svg>
</body></html>
